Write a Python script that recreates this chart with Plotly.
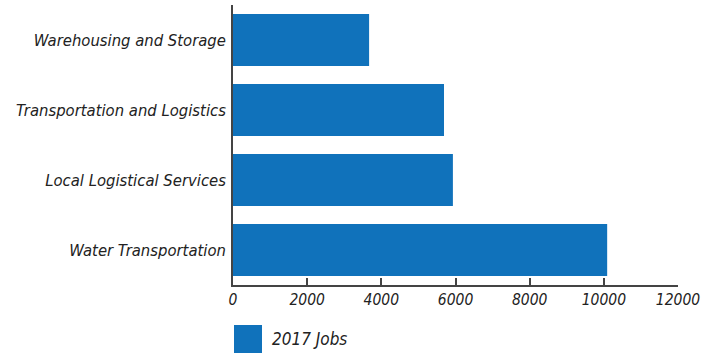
import plotly.graph_objects as go

categories = ["Warehousing and Storage", "Transportation and Logistics",
              "Local Logistical Services", "Water Transportation"]
jobs_2017 = [3670, 5690, 5930, 10090]
series_name = "2017 Jobs"
x_ticks = [0, 2000, 4000, 6000, 8000, 10000, 12000]

BAR = "#1072bb"
FONT = "DejaVu Sans Condensed, Liberation Sans Narrow, Roboto, sans-serif"
TXT = "#222222"

fig = go.Figure()
fig.add_trace(go.Bar(
    y=categories, x=jobs_2017, orientation="h", name=series_name,
    marker=dict(color=BAR, line=dict(width=0)), showlegend=False,
))

fig.update_layout(
    width=705, height=353,
    margin=dict(l=233, r=27, t=5, b=68, pad=0),
    paper_bgcolor="white", plot_bgcolor="white",
    bargap=0.26,
    font=dict(family=FONT, color=TXT, size=16, style="italic"),
    xaxis=dict(range=[0, 12000], tickvals=x_ticks, ticktext=[str(v) for v in x_ticks],
               showgrid=False, zeroline=False, showline=True, linecolor="#444444",
               linewidth=1.5, ticks="inside", ticklen=7, tickcolor="#444444",
               tickwidth=1.5, automargin=False,
               tickfont=dict(size=15.5, family=FONT, style="italic", color=TXT)),
    yaxis=dict(categoryorder="array", categoryarray=categories[::-1],
               showgrid=False, zeroline=False, showline=True, linecolor="#444444",
               linewidth=1.5, ticks="", ticklabelstandoff=2, automargin=False,
               tickfont=dict(size=16.5, family=FONT, style="italic", color=TXT)),
)

fig.add_shape(type="rect", xref="paper", yref="paper", xsizemode="pixel", ysizemode="pixel",
              xanchor=0, yanchor=0, x0=1, x1=29, y0=-40, y1=-68,
              fillcolor=BAR, line=dict(width=0))
fig.add_annotation(text=series_name, xref="paper", yref="paper", x=0, y=0,
                   xanchor="left", yanchor="middle", xshift=37, yshift=-54,
                   showarrow=False, font=dict(size=17, family=FONT, style="italic", color=TXT))

fig.write_html("out.html")
